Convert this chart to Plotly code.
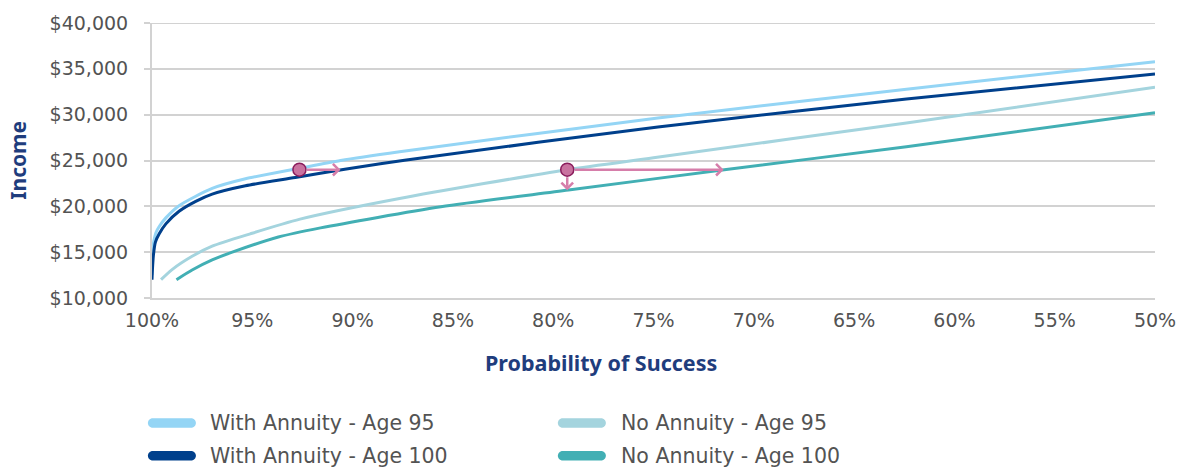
import plotly.graph_objects as go

# Probability of success (%) vs. sustainable income for each strategy
wa95_prob = [100, 99.97, 99.89, 99.8, 99.64, 99.31, 98.65, 97.0, 95.34, 92.65, 90.6, 87.66, 74.78, 62.39, 50]
wa95_income = [12500, 15200, 16400, 17150, 17800, 18740, 20070, 21950, 23000, 24150, 25000, 25950, 29640, 32780, 35780]

wa100_prob = [100, 99.98, 99.93, 99.83, 99.64, 99.31, 98.65, 97.82, 97.0, 95.34, 92.86, 90.39, 87.41, 74.78, 62.39, 50]
wa100_income = [12000, 13030, 14660, 16100, 17000, 18090, 19460, 20540, 21330, 22240, 23140, 24040, 25030, 28660, 31700, 34440]

na95_prob = [99.55, 99.0, 98.0, 97.0, 95.1, 92.62, 87.66, 79.3, 75.0, 62.39, 50]
na95_income = [12000, 13100, 14550, 15650, 17000, 18600, 20850, 24000, 25300, 29100, 32990]

na100_prob = [98.78, 98.0, 97.0, 96.0, 93.7, 91.6, 85.6, 79.24, 71.47, 62.39, 50]
na100_income = [12000, 13050, 14150, 15000, 16650, 17650, 19950, 21770, 24000, 26500, 30220]

series_names = ["With Annuity - Age 95", "No Annuity - Age 95", "With Annuity - Age 100", "No Annuity - Age 100"]
series_colors = ["#94D5F5", "#A4D4DE", "#00408C", "#42AFB4"]

# Highlighted points and where their arrows land
point_prob = [92.65, 79.3]
point_income = [24000, 24000]
right_arrow_prob = [90.6, 71.5]
down_arrow_income = [23100, 21750]

x_ticks = [100, 95, 90, 85, 80, 75, 70, 65, 60, 55, 50]
y_ticks = [10000, 15000, 20000, 25000, 30000, 35000, 40000]

FONT = "DejaVu Sans"
TITLE_FONT = "Noto Sans"
TEXT_GREY = "#535353"
TITLE_NAVY = "#1F3D7D"
GRID = "#D2D2D2"
PINK = "#D67EAA"

W, H = 1188, 468
PLOT_L, PLOT_R, PLOT_T, PLOT_B = 152, 1160, 21, 298


def px_to_paper(px, py):
    return (px - PLOT_L) / (PLOT_R - PLOT_L), (PLOT_B - py) / (PLOT_B - PLOT_T)


fig = go.Figure()

# Draw order: light lines first, navy on top
curves = [
    (wa95_prob, wa95_income, 0),
    (na95_prob, na95_income, 1),
    (na100_prob, na100_income, 3),
    (wa100_prob, wa100_income, 2),
]
for xs, ys, idx in curves:
    fig.add_trace(go.Scatter(
        x=xs, y=ys, mode="lines", name=series_names[idx],
        line=dict(color=series_colors[idx], width=3, shape="spline", smoothing=0.7),
        showlegend=False, hoverinfo="skip",
    ))

# Top gridline at the end of the income range
fig.add_shape(type="line", xref="paper", yref="y", x0=0, x1=1, y0=y_ticks[-1], y1=y_ticks[-1],
              line=dict(color=GRID, width=2), layer="below")

# Arrows from each highlighted point
for px, py, rx, dy in zip(point_prob, point_income, right_arrow_prob, down_arrow_income):
    for tx, ty in ((rx, py), (px, dy)):
        fig.add_annotation(
            x=tx, y=ty, ax=px, ay=py, xref="x", yref="y", axref="x", ayref="y",
            text="", showarrow=True, arrowhead=4, arrowsize=0.9, arrowwidth=2.5,
            arrowcolor=PINK, startstandoff=6,
        )

fig.add_trace(go.Scatter(
    x=point_prob, y=point_income, mode="markers",
    marker=dict(size=13, color="#C9729F", line=dict(color="#8A1D5C", width=1.5)),
    showlegend=False, hoverinfo="skip",
))

# Legend drawn as rounded swatches with labels, two columns
legend_x = [148, 560, 148, 560]
legend_y = [424, 424, 457, 457]
label_gap = [60, 61, 60, 61]
r = 4.75
half = 24
pill = (f"M{-half + r},{-r} L{half - r},{-r} C{half - r + 2.6},{-r} {half},{-2.6} {half},0 "
        f"C{half},2.6 {half - r + 2.6},{r} {half - r},{r} L{-half + r},{r} "
        f"C{-half + r - 2.6},{r} {-half},2.6 {-half},0 C{-half},-2.6 {-half + r - 2.6},{-r} {-half + r},{-r} Z")
for i, name in enumerate(series_names):
    cx, cy = px_to_paper(legend_x[i] + half, legend_y[i])
    fig.add_shape(type="path", xref="paper", yref="paper", xsizemode="pixel", ysizemode="pixel",
                  xanchor=cx, yanchor=cy, path=pill, fillcolor=series_colors[i],
                  line=dict(width=0), layer="above")
    tx, _ = px_to_paper(legend_x[i] + label_gap[i], legend_y[i])
    fig.add_annotation(x=tx, y=cy, xref="paper", yref="paper",
                       text=name, showarrow=False, xanchor="left", yanchor="middle",
                       font=dict(family=FONT, size=20.5, color=TEXT_GREY))

# Axis titles
ax_x, ax_y = px_to_paper(603, 363)
fig.add_annotation(x=ax_x, y=ax_y, xref="paper", yref="paper", text="<b>Probability of Success</b>",
                   showarrow=False, xanchor="center", yanchor="middle",
                   font=dict(family=TITLE_FONT, size=21.5, color=TITLE_NAVY))
ay_x, ay_y = px_to_paper(17, 159)
fig.add_annotation(x=ay_x, y=ay_y, xref="paper", yref="paper", text="<b>Income</b>",
                   showarrow=False, textangle=-90, xanchor="center", yanchor="middle",
                   font=dict(family=TITLE_FONT, size=21, color=TITLE_NAVY))

fig.update_layout(
    width=W, height=H,
    margin=dict(l=PLOT_L, r=W - PLOT_R, t=PLOT_T, b=H - PLOT_B),
    plot_bgcolor="white", paper_bgcolor="white",
    font=dict(family=FONT, color=TEXT_GREY),
    showlegend=False,
)
fig.update_xaxes(
    range=[100, 50], tickvals=x_ticks, ticktext=[f"{v}%" for v in x_ticks], showgrid=False,
    showline=True, linecolor=GRID, linewidth=2, ticks="", zeroline=False,
    tickfont=dict(family=FONT, size=19, color=TEXT_GREY), ticklabelstandoff=4,
)
fig.update_yaxes(
    range=[10000, 40000], tickvals=y_ticks, tickformat="$,.0f", showgrid=True,
    gridcolor=GRID, gridwidth=2, showline=True, linecolor=GRID, linewidth=2,
    ticks="outside", ticklen=6, tickcolor=GRID, tickwidth=2, zeroline=False,
    tickfont=dict(family=FONT, size=19, color=TEXT_GREY), ticklabelstandoff=12,
)

fig.write_html("out.html")
